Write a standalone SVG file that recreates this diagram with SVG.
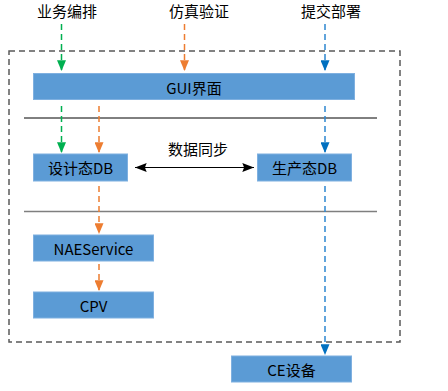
<svg xmlns="http://www.w3.org/2000/svg" width="448" height="391" viewBox="0 0 448 391">
<defs>
<style>
text{font-family:"Microsoft YaHei","Noto Sans CJK SC","Noto Sans",sans-serif;font-size:15px;fill:#000;text-anchor:middle;dominant-baseline:central}
.box{fill:#5b9bd5;stroke:#7fb0e0;stroke-width:1}
.g{stroke:#00b050;stroke-width:1.5;stroke-dasharray:6,4;fill:none}
.o{stroke:#ed7d31;stroke-width:1.5;stroke-dasharray:6,4;fill:none}
.b{stroke:#2e86d0;stroke-width:1.5;stroke-dasharray:6,4;fill:none}
</style>
<marker id="ag" viewBox="0 0 12 10" refX="12" refY="5" markerWidth="12" markerHeight="9" markerUnits="userSpaceOnUse" orient="auto"><path d="M0,0L12,5L0,10z" fill="#00b050"/></marker>
<marker id="ao" viewBox="0 0 12 10" refX="12" refY="5" markerWidth="12" markerHeight="9" markerUnits="userSpaceOnUse" orient="auto"><path d="M0,0L12,5L0,10z" fill="#ed7d31"/></marker>
<marker id="ab" viewBox="0 0 12 10" refX="12" refY="5" markerWidth="12" markerHeight="9" markerUnits="userSpaceOnUse" orient="auto"><path d="M0,0L12,5L0,10z" fill="#0070c0"/></marker>
<marker id="ak" viewBox="0 0 13 10" refX="13" refY="5" markerWidth="13" markerHeight="9" markerUnits="userSpaceOnUse" orient="auto-start-reverse"><path d="M0,0L13,5L0,10L2,5z" fill="#000"/></marker>
</defs>
<rect x="0" y="0" width="448" height="391" fill="#fff"/>
<rect id="frame" x="9" y="51" width="391" height="291" fill="none" stroke="#595959" stroke-width="1.5" stroke-dasharray="6,4"/>
<line x1="24" y1="118" x2="377" y2="118" stroke="#000" stroke-width="1"/>
<line x1="24" y1="211.5" x2="377" y2="211.5" stroke="#7f7f7f" stroke-width="1.5"/>
<g id="labels">
<text x="67" y="10">业务编排</text>
<text x="199" y="10">仿真验证</text>
<text x="331" y="10">提交部署</text>
<text x="198" y="148">数据同步</text>
</g>
<g id="connectors">
<line class="g" x1="61.5" y1="24" x2="61.5" y2="71" marker-end="url(#ag)"/>
<line class="o" x1="184.5" y1="24" x2="184.5" y2="71" marker-end="url(#ao)"/>
<line class="b" x1="325" y1="24" x2="325" y2="71" marker-end="url(#ab)"/>
<line class="g" x1="61.5" y1="106" x2="61.5" y2="153" marker-end="url(#ag)"/>
<line class="o" x1="99" y1="106" x2="99" y2="153" marker-end="url(#ao)"/>
<line class="b" x1="325" y1="106" x2="325" y2="153" marker-end="url(#ab)"/>
<line class="o" x1="99" y1="186" x2="99" y2="234" marker-end="url(#ao)"/>
<line class="o" x1="99" y1="264" x2="99" y2="291" marker-end="url(#ao)"/>
<line class="b" x1="325" y1="186" x2="325" y2="355" marker-end="url(#ab)"/>
<line x1="135" y1="167.5" x2="254" y2="167.5" stroke="#000" stroke-width="1.2" marker-start="url(#ak)" marker-end="url(#ak)"/>
</g>
<g id="gui"><rect class="box" x="33.5" y="73.5" width="321" height="26"/><text x="194" y="87">GUI界面</text></g>
<g id="designdb"><rect class="box" x="33.5" y="154" width="94" height="27"/><text x="80.5" y="167.5">设计态DB</text></g>
<g id="proddb"><rect class="box" x="257.5" y="154" width="94" height="27"/><text x="304.5" y="167.5">生产态DB</text></g>
<g id="naeservice"><rect class="box" x="33.5" y="235" width="120" height="26"/><text x="93.5" y="248">NAEService</text></g>
<g id="cpv"><rect class="box" x="33.5" y="292" width="120" height="26"/><text x="93.5" y="305">CPV</text></g>
<g id="ce"><rect class="box" x="231.5" y="356" width="120" height="26"/><text x="291.5" y="369">CE设备</text></g>
</svg>
